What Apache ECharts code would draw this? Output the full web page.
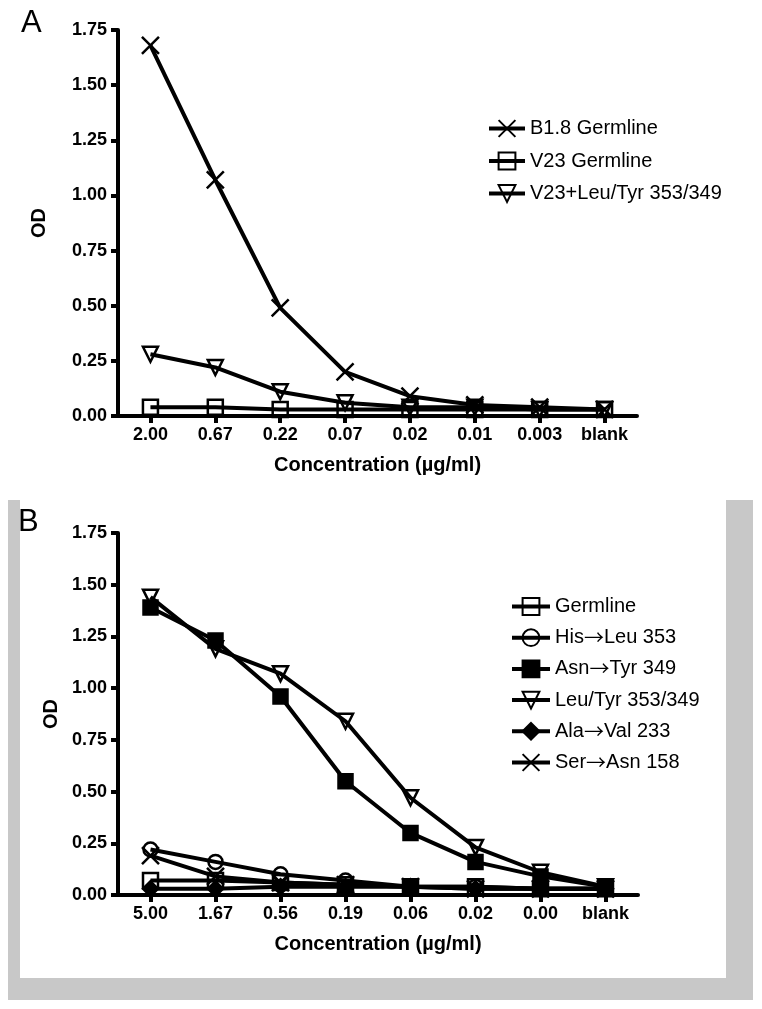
<!DOCTYPE html>
<html><head><meta charset="utf-8">
<script src="https://cdn.jsdelivr.net/npm/echarts@6/dist/echarts.min.js"></script>
<style>html,body{margin:0;padding:0;background:#fff}#c{width:762px;height:1009px}</style>
</head><body><div id="c"></div>
<script>
const catsA = ['2.00','0.67','0.22','0.07','0.02','0.01','0.003','blank'];
const catsB = ['5.00','1.67','0.56','0.19','0.06','0.02','0.00','blank'];
const yTicks = [0, 0.25, 0.5, 0.75, 1.0, 1.25, 1.5, 1.75];

const b18Germline = [1.68, 1.07, 0.49, 0.20, 0.09, 0.05, 0.04, 0.03];
const v23Germline = [0.04, 0.04, 0.03, 0.03, 0.03, 0.03, 0.03, 0.03];
const v23LeuTyr   = [0.28, 0.22, 0.11, 0.06, 0.04, 0.04, 0.03, 0.03];

const germlineB = [0.07, 0.07, 0.06, 0.05, 0.04, 0.04, 0.03, 0.03];
const hisLeu    = [0.22, 0.16, 0.10, 0.07, 0.04, 0.04, 0.03, 0.03];
const asnTyr    = [1.39, 1.23, 0.96, 0.55, 0.30, 0.16, 0.09, 0.04];
const leuTyr    = [1.44, 1.19, 1.07, 0.84, 0.47, 0.23, 0.11, 0.04];
const alaVal    = [0.03, 0.03, 0.04, 0.04, 0.04, 0.03, 0.03, 0.03];
const serAsn    = [0.19, 0.09, 0.06, 0.05, 0.04, 0.03, 0.03, 0.03];

const FONT = "'Liberation Sans', Arial, sans-serif";
const XPATH = 'path://M0,0L10,10M10,0L0,10';
const HOLLOW = 'rgba(0,0,0,0)';

function xAxis(idx, cats) {
  return {
    type: 'category', gridIndex: idx, data: cats, boundaryGap: true,
    name: 'Concentration (µg/ml)', nameLocation: 'middle', nameGap: 39,
    nameTextStyle: {fontFamily: FONT, fontWeight: 'bold', fontSize: 20, color: '#000'},
    axisLine: {show: true, lineStyle: {color: '#000', width: 4}},
    axisTick: {show: true, alignWithLabel: true, length: 7, lineStyle: {color: '#000', width: 4}},
    axisLabel: {fontFamily: FONT, fontWeight: 'bold', fontSize: 18, color: '#000', margin: 10, interval: 0},
    splitLine: {show: false}
  };
}
function yAxis(idx, gap) {
  return {
    type: 'value', gridIndex: idx, min: yTicks[0], max: yTicks[yTicks.length - 1], interval: 0.25,
    name: 'OD', nameLocation: 'middle', nameGap: gap, nameRotate: 90,
    nameTextStyle: {fontFamily: FONT, fontWeight: 'bold', fontSize: 20, color: '#000'},
    axisLine: {show: true, lineStyle: {color: '#000', width: 4}},
    axisTick: {show: true, length: 7, lineStyle: {color: '#000', width: 4}},
    axisLabel: {fontFamily: FONT, fontWeight: 'bold', fontSize: 18, color: '#000', margin: 11,
      formatter: v => v.toFixed(2)},
    splitLine: {show: false}
  };
}
function ser(name, data, idx, symbol, size, fill, rotate) {
  return {
    type: 'line', name, data, xAxisIndex: idx, yAxisIndex: idx,
    symbol, symbolSize: size, symbolRotate: rotate || 0, showAllSymbol: true,
    lineStyle: {color: '#000', width: 4},
    itemStyle: {color: fill, borderColor: '#000', borderWidth: 2.5},
    emphasis: {disabled: true}, animation: false
  };
}
function legend(left, top, gap, names, w) {
  return {
    orient: 'vertical', left, top, padding: 0, itemWidth: w, itemHeight: 21, itemGap: gap,
    lineStyle: {width: 4, color: '#000'},
    textStyle: {fontFamily: FONT, fontSize: 20, color: '#000',
      rich: {r: {fontFamily: "'Noto Sans CJK SC', 'DejaVu Sans', sans-serif", fontSize: 20, color: '#000'}}},
    formatter: n => n.replace('→', '{r|→}'),
    data: names, selectedMode: false
  };
}

const chart = echarts.init(document.getElementById('c'), null, {renderer: 'canvas'});
chart.setOption({
  backgroundColor: '#fff',
  animation: false,
  graphic: [
    {type: 'rect', z: -10, shape: {x: 8, y: 500, width: 745, height: 500}, style: {fill: '#c8c8c8'}},
    {type: 'rect', z: -9, shape: {x: 20, y: 500, width: 706, height: 478}, style: {fill: '#fff'}},
    {type: 'text', left: 21, top: 8, style: {text: 'A', font: "31px " + FONT, fill: '#000'}},
    {type: 'text', left: 18, top: 507, style: {text: 'B', font: "31px " + FONT, fill: '#000'}}
  ],
  grid: [
    {left: 118, top: 30, width: 519, height: 386},
    {left: 118, top: 533, width: 520, height: 362}
  ],
  xAxis: [xAxis(0, catsA), xAxis(1, catsB)],
  yAxis: [yAxis(0, 69), yAxis(1, 57)],
  legend: [
    legend(487, 118.5, 12.5, ['B1.8 Germline', 'V23 Germline', 'V23+Leu/Tyr 353/349'], 36),
    legend(510, 596.5, 11.2, ['Germline', 'His→Leu 353', 'Asn→Tyr 349', 'Leu/Tyr 353/349', 'Ala→Val 233', 'Ser→Asn 158'], 38)
  ],
  series: [
    ser('B1.8 Germline', b18Germline, 0, XPATH, 17, HOLLOW),
    ser('V23 Germline', v23Germline, 0, 'rect', 15, HOLLOW),
    ser('V23+Leu/Tyr 353/349', v23LeuTyr, 0, 'triangle', 15, HOLLOW, 180),
    ser('Germline', germlineB, 1, 'rect', 15, HOLLOW),
    ser('His→Leu 353', hisLeu, 1, 'circle', 14, HOLLOW),
    ser('Asn→Tyr 349', asnTyr, 1, 'rect', 14, '#000'),
    ser('Leu/Tyr 353/349', leuTyr, 1, 'triangle', 15, HOLLOW, 180),
    ser('Ala→Val 233', alaVal, 1, 'diamond', 15, '#000'),
    ser('Ser→Asn 158', serAsn, 1, XPATH, 17, HOLLOW)
  ]
});
</script></body></html>
